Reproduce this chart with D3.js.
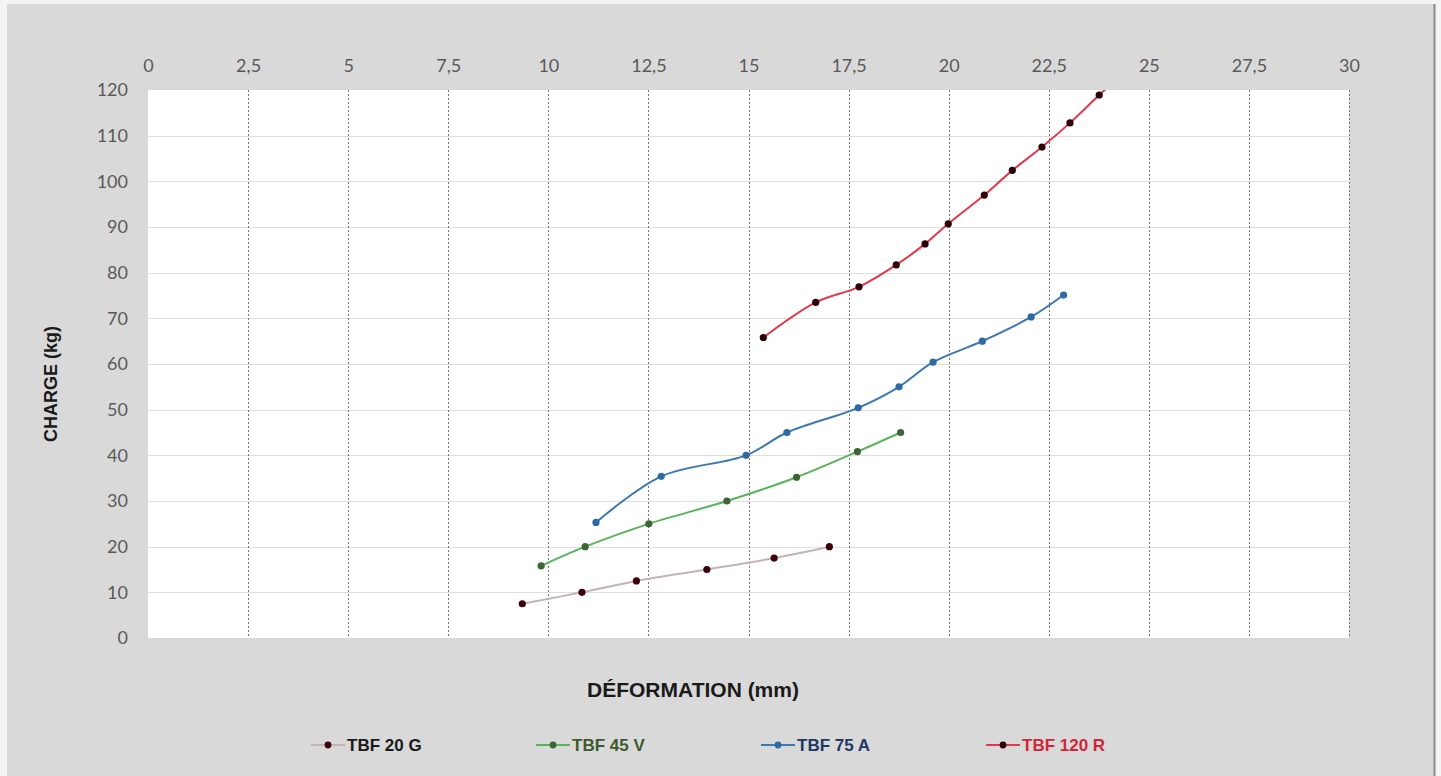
<!DOCTYPE html>
<html lang="fr">
<head>
  <meta charset="UTF-8">
  <title>D3 -- Charge / Déformation</title>
  <style>
    body {
      margin: 0;
      background-color: #f4f4f4;
    }

    svg {
      display: block;
    }

    .tick text {
      font-family: Lato, "Open Sans", sans-serif;
      font-size: 18px;
      fill: #595959;
    }

    .axis path {
      display: none;
    }

    .title,
    .legend text {
      font-family: "Liberation Sans", Arial, sans-serif;
      font-weight: bold;
    }
  </style>
</head>
<body>
<div class="chart-box"></div>
</body>
<script src="https://d3js.org/d3.v7.min.js"></script>
<script>
  // données : déformation (mm) / charge (kg)
  let seriesNames = ['TBF 20 G', 'TBF 45 V', 'TBF 75 A', 'TBF 120 R']

  let g20X = [9.35, 10.84, 12.2, 13.96, 15.64, 17.02]
  let g20Y = [7.5, 10, 12.5, 15, 17.5, 20]

  let v45X = [9.82, 10.92, 12.51, 14.46, 16.2, 17.72, 18.8]
  let v45Y = [15.8, 20, 25, 30, 35.2, 40.8, 45]

  let a75X = [11.19, 12.82, 14.94, 15.96, 17.74, 18.76, 19.61, 20.84, 22.06, 22.87]
  let a75Y = [25.3, 35.4, 40, 45, 50.4, 55, 60.4, 65, 70.3, 75.1]

  let r120X = [15.37, 16.68, 17.76, 18.69, 19.41, 19.99, 20.89, 21.59, 22.33, 23.03, 23.76, 24.4]
  let r120Y = [65.8, 73.5, 76.9, 81.7, 86.3, 90.7, 97, 102.4, 107.5, 112.8, 118.9, 124]

  let xTicks = [0, 2.5, 5, 7.5, 10, 12.5, 15, 17.5, 20, 22.5, 25, 27.5, 30]
  let yTicks = [0, 10, 20, 30, 40, 50, 60, 70, 80, 90, 100, 110, 120]

  // styles
  let lineColors = ['#c4b3b3', '#58b45c', '#3b78b4', '#e2394d']
  let dotColors = ['#3d0008', '#3c6434', '#2f6aa3', '#2b0006']
  let textColors = ['#1a1a1a', '#3e5a2c', '#1f3864', '#d0253a']

  let width = 1441
  let height = 776
  let paddingT = 90
  let paddingB = 138
  let paddingL = 148
  let paddingR = 92
  let plotW = width - paddingL - paddingR
  let plotH = height - paddingT - paddingB

  let svg = d3.select('.chart-box').append('svg').attr('width', width).attr('height', height)
  let xScale = d3.scaleLinear().domain([0, 30]).range([paddingL, paddingL + plotW])
  let yScale = d3.scaleLinear().domain([0, 120]).range([paddingT + plotH, paddingT])
  let frFormat = d3.formatLocale({ decimal: ',', thousands: ' ', grouping: [3], currency: ['', ' €'] }).format('.1~f')

  let series = seriesNames.map((name, i) => {
    let xs = [g20X, v45X, a75X, r120X][i]
    let ys = [g20Y, v45Y, a75Y, r120Y][i]
    return { name: name, idx: i, points: xs.map((x, j) => ({ x: x, y: ys[j] })) }
  })

  drawChart()

  function drawChart () {
    drawFrame() // fond gris
    drawGrid() // quadrillage
    drawAxis() // axes + titres
    drawLines() // courbes
    drawLegend() // légende
  }

  function drawFrame () {
    svg.append('rect')
      .attr('x', 7).attr('y', 4)
      .attr('width', 1427).attr('height', height - 4)
      .attr('fill', '#d9d9d9')
    svg.append('line')
      .attr('x1', 1434.5).attr('x2', 1434.5)
      .attr('y1', 4).attr('y2', height)
      .attr('stroke', '#8a8a8a')
      .attr('stroke-width', 2)
    svg.append('rect')
      .attr('x', paddingL).attr('y', paddingT)
      .attr('width', plotW).attr('height', plotH)
      .attr('fill', '#fff')
  }

  function drawGrid () {
    svg.append('g').selectAll('line')
      .data(yTicks.filter(d => d > 0 && d < 120))
      .enter().append('line')
      .attr('x1', paddingL).attr('x2', paddingL + plotW)
      .attr('y1', d => Math.round(yScale(d)) + 0.5)
      .attr('y2', d => Math.round(yScale(d)) + 0.5)
      .attr('stroke', '#dedede')

    svg.append('g').selectAll('line')
      .data(xTicks.filter(d => d > 0))
      .enter().append('line')
      .attr('x1', d => Math.round(xScale(d)) + 0.5)
      .attr('x2', d => Math.round(xScale(d)) + 0.5)
      .attr('y1', paddingT).attr('y2', paddingT + plotH)
      .attr('stroke', '#777')
      .attr('stroke-dasharray', '2,2')
  }

  function drawAxis () {
    let xAxis = d3.axisTop(xScale).tickValues(xTicks).tickSize(0).tickPadding(18).tickFormat(frFormat)
    svg.append('g').attr('class', 'axis')
      .attr('transform', 'translate(0,' + paddingT + ')')
      .call(xAxis)

    let yAxis = d3.axisLeft(yScale).tickValues(yTicks).tickSize(0).tickPadding(20)
    svg.append('g').attr('class', 'axis')
      .attr('transform', 'translate(' + paddingL + ',0)')
      .call(yAxis)

    svg.append('text').attr('class', 'title')
      .attr('x', 693).attr('y', 697)
      .attr('text-anchor', 'middle')
      .style('font-size', '21px')
      .attr('fill', '#1a1a1a')
      .text('DÉFORMATION (mm)')

    svg.append('text').attr('class', 'title')
      .attr('transform', 'translate(57,384) rotate(-90)')
      .attr('text-anchor', 'middle')
      .style('font-size', '18px')
      .attr('fill', '#1a1a1a')
      .text('CHARGE (kg)')
  }

  function drawLines () {
    svg.append('clipPath').attr('id', 'plot-clip')
      .append('rect')
      .attr('x', paddingL).attr('y', paddingT)
      .attr('width', plotW).attr('height', plotH)

    let line = d3.line()
      .x(d => xScale(d.x))
      .y(d => yScale(d.y))
      .curve(d3.curveCatmullRom)

    let gSeries = svg.append('g').attr('clip-path', 'url(#plot-clip)')
      .selectAll('g').data(series)
      .enter().append('g')

    gSeries.append('path')
      .attr('d', d => line(d.points))
      .attr('fill', 'none')
      .attr('stroke', d => lineColors[d.idx])
      .attr('stroke-width', 2)

    gSeries.selectAll('circle')
      .data(d => d.points.map(p => ({ x: p.x, y: p.y, idx: d.idx })))
      .enter().append('circle')
      .attr('cx', d => xScale(d.x))
      .attr('cy', d => yScale(d.y))
      .attr('r', 3.6)
      .attr('fill', d => dotColors[d.idx])
  }

  function drawLegend () {
    let legendX = d3.scaleLinear().domain([0, 3]).range([347, 1022])
    let item = svg.append('g').attr('class', 'legend')
      .selectAll('g').data(series)
      .enter().append('g')
      .attr('transform', d => 'translate(' + legendX(d.idx) + ',745)')

    item.append('line')
      .attr('x1', -36).attr('x2', -2)
      .attr('stroke', d => lineColors[d.idx])
      .attr('stroke-width', 2)
    item.append('circle')
      .attr('cx', -19).attr('r', 3.4)
      .attr('fill', d => dotColors[d.idx])
    item.append('text')
      .attr('x', 0).attr('dy', '0.35em')
      .style('font-size', '17px')
      .attr('fill', d => textColors[d.idx])
      .text(d => d.name)
  }
</script>
</html>
